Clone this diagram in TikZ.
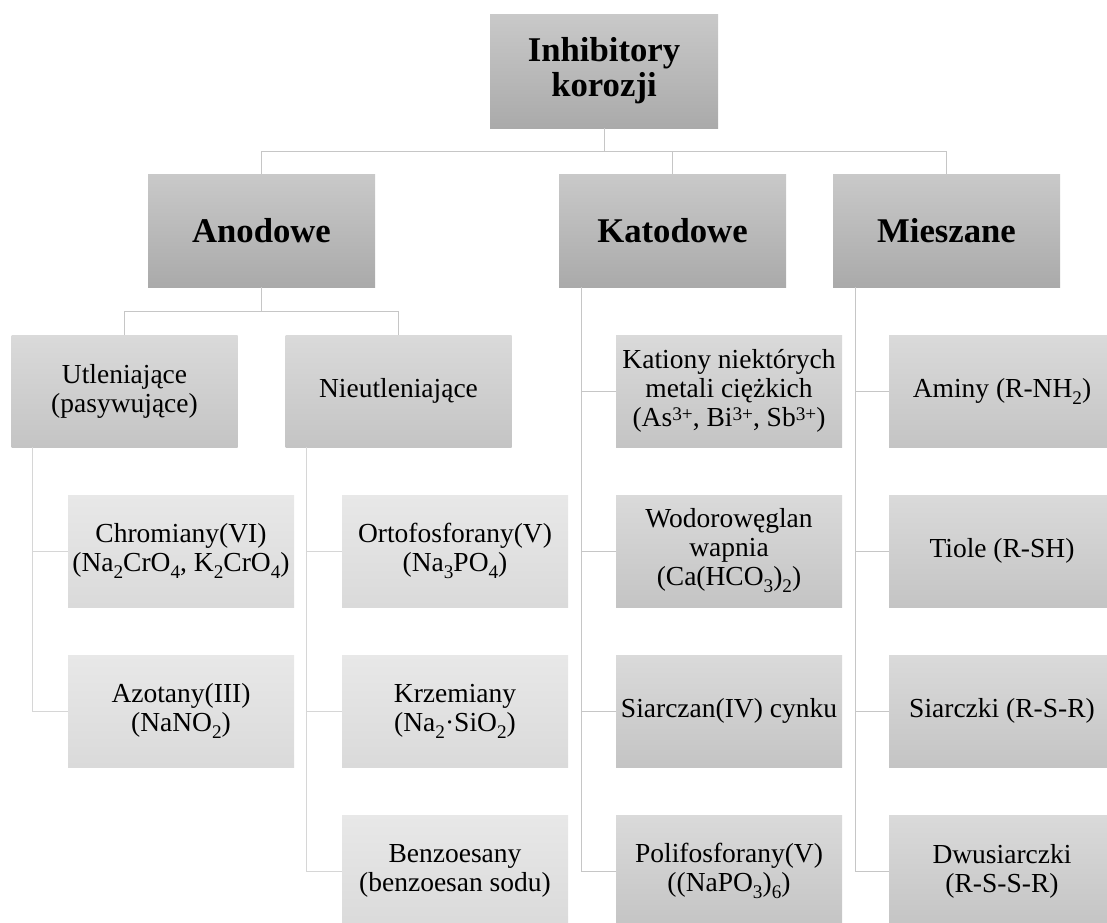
\documentclass[tikz,border=0pt]{standalone}
\usepackage{fontspec}
\setmainfont{Liberation Serif}
\definecolor{lineA}{HTML}{C6C6C6}
\definecolor{lineB}{HTML}{D6D6D6}
\definecolor{topA}{HTML}{C9C9C9}
\definecolor{botA}{HTML}{AAAAAA}
\definecolor{topB}{HTML}{DADADA}
\definecolor{botB}{HTML}{C4C4C4}
\definecolor{topC}{HTML}{E8E8E8}
\definecolor{botC}{HTML}{DADADA}
\newcommand\mysub[1]{\raisebox{-7pt}{\fontsize{19.25}{19.25}\selectfont #1}}
\newcommand\mysup[1]{\raisebox{6pt}{\fontsize{19.25}{19.25}\selectfont #1}}
\begin{document}
\begin{tikzpicture}[x=1pt,y=-1pt,
  box/.style={rectangle,inner sep=0pt,minimum width=226pt,minimum height=112pt,align=center,text=black},
  lvlA/.style={box,top color=topA,bottom color=botA,font=\fontsize{34.7}{35}\selectfont\bfseries},
  lvlB/.style={box,top color=topB,bottom color=botB,font=\fontsize{27.5}{29}\selectfont},
  lvlC/.style={box,top color=topC,bottom color=botC,font=\fontsize{27.5}{29}\selectfont},
  connA/.style={draw=lineA,line width=1pt},
  connB/.style={draw=lineB,line width=1pt}]
\useasboundingbox (0,0) rectangle (1107,922);
\clip (0,0) rectangle (1107,922);
% root and level 2
\node[lvlA,minimum width=228pt,minimum height=114pt] (root) at (604,71) {Inhibitory\\korozji};
\node[lvlA,minimum width=227pt,minimum height=113pt] (ano) at (261.5,230.5) {Anodowe};
\node[lvlA,minimum width=227pt,minimum height=113pt] (kat) at (672.5,230.5) {Katodowe};
\node[lvlA,minimum width=227pt,minimum height=113pt] (mie) at (946.5,230.5) {Mieszane};
% level 3 under Anodowe
\node[lvlB] (utl) at (124.5,391) {Utleniające\\(pasywujące)};
\node[lvlB] (nie) at (398.5,391) {Nieutleniające};
% Anodowe grandchildren
\node[lvlC] (chr) at (181,551) {Chromiany(VI)\\(Na\mysub{2}CrO\mysub{4}, K\mysub{2}CrO\mysub{4})};
\node[lvlC] (azo) at (181,711) {Azotany(III)\\(NaNO\mysub{2})};
\node[lvlC] (orto) at (455,551) {Ortofosforany(V)\\(Na\mysub{3}PO\mysub{4})};
\node[lvlC] (krz) at (455,711) {Krzemiany\\(Na\mysub{2}·SiO\mysub{2})};
\node[lvlC] (ben) at (455,871) {Benzoesany\\(benzoesan sodu)};
% Katodowe children
\node[lvlB] (kati) at (729,391) {Kationy niektórych\\metali ciężkich\\(As\mysup{3+}, Bi\mysup{3+}, Sb\mysup{3+})};
\node[lvlB] (wod) at (729,551) {Wodorowęglan\\wapnia\\(Ca(HCO\mysub{3})\mysub{2})};
\node[lvlB] (sia) at (729,711) {Siarczan(IV) cynku};
\node[lvlB] (pol) at (729,871) {Polifosforany(V)\\((NaPO\mysub{3})\mysub{6})};
% Mieszane children
\node[lvlB] (ami) at (1002,391) {Aminy (R-NH\mysub{2})};
\node[lvlB] (tio) at (1002,551) {Tiole (R-SH)};
\node[lvlB] (sic) at (1002,711) {Siarczki (R-S-R)};
\node[lvlB] (dwu) at (1002,871) {Dwusiarczki\\(R-S-S-R)};
% connectors
\draw[connA] (root.south) -- ++(0,23) -| (ano.north);
\draw[connA] (root.south) -- ++(0,23) -| (kat.north);
\draw[connA] (root.south) -- ++(0,23) -| (mie.north);
\draw[connA] (ano.south) -- ++(0,24) -| (utl.north);
\draw[connA] (ano.south) -- ++(0,24) -| (nie.north);
\draw[connB] ([xshift=21pt]utl.south west) |- (chr.west);
\draw[connB] ([xshift=21pt]utl.south west) |- (azo.west);
\draw[connB] ([xshift=21pt]nie.south west) |- (orto.west);
\draw[connB] ([xshift=21pt]nie.south west) |- (krz.west);
\draw[connB] ([xshift=21pt]nie.south west) |- (ben.west);
\draw[connA] ([xshift=23pt]kat.south west) |- (kati.west);
\draw[connA] ([xshift=23pt]kat.south west) |- (wod.west);
\draw[connA] ([xshift=23pt]kat.south west) |- (sia.west);
\draw[connA] ([xshift=23pt]kat.south west) |- (pol.west);
\draw[connA] ([xshift=23pt]mie.south west) |- (ami.west);
\draw[connA] ([xshift=23pt]mie.south west) |- (tio.west);
\draw[connA] ([xshift=23pt]mie.south west) |- (sic.west);
\draw[connA] ([xshift=23pt]mie.south west) |- (dwu.west);
\end{tikzpicture}
\end{document}
